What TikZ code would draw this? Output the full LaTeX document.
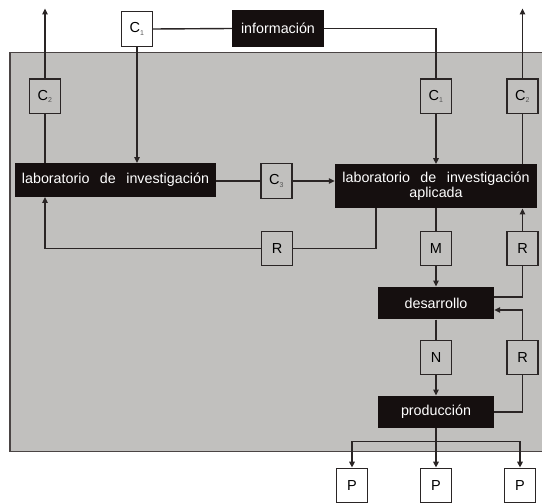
\documentclass[tikz,border=0pt]{standalone}
\usepackage{fontspec}
\setmainfont{Liberation Sans}
\usetikzlibrary{arrows.meta,calc}
\definecolor{bggray}{HTML}{C1C0BE}
\definecolor{boxblk}{HTML}{150F0F}
\definecolor{linecol}{HTML}{2A2525}
\definecolor{framecol}{HTML}{4A4444}
\definecolor{subgray}{HTML}{555555}
\newcommand{\subidx}[1]{\textsubscript{\fontsize{7}{7}\selectfont\color{subgray}#1}}
\tikzset{
  conn/.style={draw=linecol, line width=1.4pt},
  arr/.style={conn, -{Triangle[length=6pt,width=5.5pt]}},
  blkbox/.style={fill=boxblk, text=white, inner sep=0pt, font=\fontsize{14.3}{15}\selectfont, align=center},
  sqbox/.style={draw=linecol, line width=1.4pt, fill=bggray, minimum width=31pt, minimum height=34.5pt, inner sep=0pt, font=\fontsize{14.5}{15}\selectfont},
  wbox/.style={sqbox, fill=white}
}
\begin{document}
\begin{tikzpicture}[x=1pt,y=-1pt]
\useasboundingbox (0,0) rectangle (542,503);
\begin{scope}
\clip (0,0) rectangle (542,503);
\draw[fill=bggray, draw=framecol, line width=1.5pt] (10,52.5) rectangle (560,451.5);
\end{scope}
% nodes
\node[blkbox, minimum width=92pt, minimum height=36.5pt] (info) at (278,28.5) {información};
\node[wbox] (c1top) at (137,29) {C\subidx{1}};
\node[sqbox] (c2l) at (45,96.3) {C\subidx{2}};
\node[sqbox] (c1r) at (436,96.3) {C\subidx{1}};
\node[sqbox] (c2r) at (522.5,96.3) {C\subidx{2}};
\node[blkbox, minimum width=201pt, minimum height=33.5pt] (labinv) at (115.5,180) {\spaceskip=10.5pt laboratorio de investigación};
\node[sqbox] (c3) at (276.5,181) {C\subidx{3}};
\node[blkbox, minimum width=202pt, minimum height=44pt] (labapl) at (436,186.3) {\spaceskip=10.5pt laboratorio de investigación\\aplicada};
\node[sqbox] (rmid) at (277,248.5) {R};
\node[sqbox] (m) at (436,248.5) {M};
\node[sqbox] (rr1) at (522.5,248.5) {R};
\node[blkbox, minimum width=116pt, minimum height=32.6pt] (des) at (436,303) {desarrollo};
\node[sqbox] (n) at (436,357.5) {N};
\node[sqbox] (rr2) at (522.5,357.5) {R};
\node[blkbox, minimum width=116pt, minimum height=32.5pt] (prod) at (436,412) {producción};
\node[wbox, minimum height=34pt] (p1) at (352,485.3) {P};
\node[wbox, minimum height=34pt] (p2) at (436,485.3) {P};
\node[wbox, minimum height=34pt] (p3) at (520,485.3) {P};
\coordinate (tl) at (45,8.5);
\coordinate (tr) at (522.5,8.5);
\coordinate (br) at (436,441.7);
% connectors
\draw[conn] (c1top.east) -- (info.west);
\draw[conn] (info.east) -| (c1r.north);
\draw[arr] (c1top.south) -- (c1top.south |- labinv.north);
\draw[conn] (labinv.north -| c2l) -- (c2l.south);
\draw[arr] (c2l.north) -- (tl);
\draw[arr] (c1r.south) -- (labapl.north);
\draw[conn] (labapl.north -| c2r) -- (c2r.south);
\draw[arr] (c2r.north) -- (tr);
\draw[conn] (labinv.east |- c3.west) -- (c3.west);
\draw[arr] (c3.east) -- (c3.east -| labapl.west);
\draw[conn] ([xshift=-60pt]labapl.south) |- (rmid.east);
\draw[arr] (rmid.west) -| (labinv.south -| c2l);
\draw[conn] (labapl.south) -- (m.north);
\draw[arr] (m.south) -- (des.north);
\draw[arr] (rr1.north) -- (labapl.south -| rr1);
\draw[conn] (rr1.south) |- ([yshift=6pt]des.east);
\draw[arr] (rr2.north) |- ([yshift=-7pt]des.east);
\draw[conn] (des.south) -- (n.north);
\draw[arr] (n.south) -- (prod.north);
\draw[conn] (rr2.south) |- (prod.east);
\draw[conn] (prod.south) -- (br);
\draw[arr] (br) -| (p1.north);
\draw[arr] (br) -| (p3.north);
\draw[arr] (br) -- (p2.north);
\end{tikzpicture}
\end{document}
